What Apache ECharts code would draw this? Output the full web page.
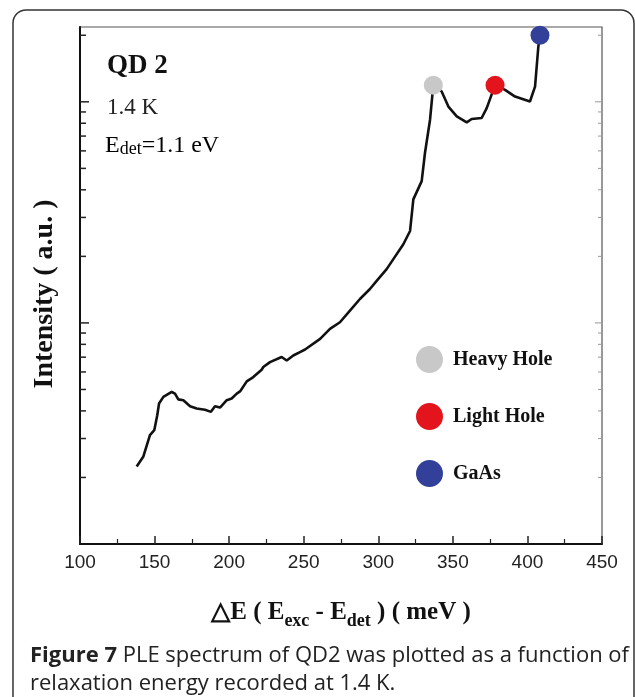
<!DOCTYPE html>
<html>
<head>
<meta charset="utf-8">
<script src="https://cdn.jsdelivr.net/npm/echarts@6/dist/echarts.min.js"></script>
<style>
html, body { margin: 0; padding: 0; background: #fff; }
#chart { width: 635px; height: 697px; }
</style>
</head>
<body>
<div id="chart"></div>
<script>
// PLE spectrum of QD2 (meV, a.u. on log scale)
const energy = [138.0, 142.4, 146.9, 149.8, 151.8, 153.0, 155.9, 161.5, 163.7, 165.9,
    169.3, 173.8, 178.2, 183.8, 187.8, 190.5, 193.9, 198.4, 201.7, 205.1,
    207.3, 211.8, 216.2, 221.8, 222.9, 227.4, 235.2, 238.6, 243.0, 247.5,
    250.9, 261.0, 267.6, 274.3, 281.0, 287.7, 294.4, 298.9, 305.6, 310.1,
    316.8, 321.3, 323.5, 329.1, 331.3, 334.7, 336.9, 342.5, 347.0, 352.6,
    359.3, 362.6, 369.3, 372.7, 378.3, 385.0, 391.7, 401.7, 405.1, 407.3, 408.4];
const intensity = [2.24, 2.48, 3.11, 3.27, 3.82, 4.32, 4.63, 4.87, 4.79, 4.51,
    4.47, 4.20, 4.10, 4.05, 3.96, 4.20, 4.14, 4.47, 4.55, 4.79,
    4.90, 5.44, 5.69, 6.14, 6.32, 6.65, 7.01, 6.76, 7.12, 7.38,
    7.58, 8.47, 9.40, 10.07, 11.36, 12.83, 14.23, 15.50, 17.51, 19.43,
    22.69, 26.05, 36.2, 43.8, 58.7, 83.0, 119, 111.3, 95.2, 85.9,
    80.7, 83.6, 84.5, 93.7, 119, 113.2, 105.6, 100.3, 117.2, 177.4, 200];

// marked peaks
const peakNames = ['Heavy Hole', 'Light Hole', 'GaAs'];
const peakEnergy = [336.9, 378.3, 408.4];
const peakIntensity = [119, 119, 200];
const peakColors = ['#c8c8c8', '#e3141c', '#33409a'];

// log axis tick values
const majorY = [10, 100];
const minorY = [2, 3, 4, 5, 6, 7, 8, 9, 20, 30, 40, 50, 60, 70, 80, 90, 200];

const xMin = 100, xMax = 450, xStep = 50;
const yMin = 1, yMax = 218;

const serif = '"Liberation Serif", "Times New Roman", serif';
const capFont = '"Open Sans", sans-serif';

var myChart = echarts.init(document.getElementById('chart'), null, { renderer: 'canvas' });

// draws a tick at both the left and the right edge for a y value
function tickItem(lenLeft, lenRight) {
    return function (params, api) {
        const l = api.coord([xMin, api.value(1)]);
        const r = api.coord([xMax, api.value(1)]);
        return {
            type: 'group',
            children: [
                { type: 'line', shape: { x1: l[0], y1: l[1], x2: l[0] + lenLeft, y2: l[1] },
                  style: { stroke: '#222', lineWidth: 1.5 } },
                { type: 'line', shape: { x1: r[0] - lenRight, y1: r[1], x2: r[0], y2: r[1] },
                  style: { stroke: '#999', lineWidth: 1 } }
            ]
        };
    };
}

const peakSeries = peakNames.map(function (name, i) {
    return {
        name: name,
        type: 'scatter',
        data: [[peakEnergy[i], peakIntensity[i]]],
        symbol: 'circle',
        symbolSize: 19,
        itemStyle: { color: peakColors[i], opacity: 1 },
        z: 5
    };
});

var option = {
    animation: false,
    backgroundColor: '#fff',
    grid: {
        left: 80, top: 27, right: 33, bottom: 153,
        show: true, borderColor: '#555', borderWidth: 1.2
    },
    legend: {
        data: peakNames,
        orient: 'vertical',
        left: 411,
        top: 341,
        icon: 'circle',
        itemWidth: 27,
        itemHeight: 29,
        itemGap: 30,
        textStyle: {
            fontFamily: serif, fontWeight: 'bold', fontSize: 20, color: '#111',
            padding: [0, 0, 0, 5]
        }
    },
    xAxis: {
        type: 'value',
        min: xMin, max: xMax, interval: xStep,
        name: '△E ( {b|E}{s|exc} - {b|E}{s|det} ) ( meV )',
        nameLocation: 'middle',
        nameGap: 52,
        nameTextStyle: {
            fontFamily: serif, fontWeight: 'bold', fontSize: 25, color: '#111',
            rich: {
                b: { fontFamily: serif, fontWeight: 'bold', fontSize: 25, color: '#111' },
                s: { fontFamily: serif, fontWeight: 'bold', fontSize: 18, color: '#111', padding: [16, 0, 0, 0] }
            }
        },
        axisLine: { lineStyle: { color: '#111', width: 2 } },
        axisTick: { inside: true, length: 8, lineStyle: { color: '#222', width: 1.5 } },
        minorTick: { show: true, splitNumber: 2, length: 5, lineStyle: { color: '#222', width: 1.2 } },
        axisLabel: { margin: 9, fontFamily: '"Liberation Sans", Arial, sans-serif', fontSize: 19, color: '#222' },
        splitLine: { show: false }
    },
    yAxis: {
        type: 'log',
        min: yMin, max: yMax,
        axisLine: { show: true, lineStyle: { color: '#111', width: 2 } },
        axisTick: { show: false },
        axisLabel: { show: false },
        splitLine: { show: false }
    },
    graphic: [
        { type: 'rect', shape: { x: 13, y: 10, width: 621, height: 760, r: 13 },
          style: { fill: 'none', stroke: '#333', lineWidth: 1.5 }, silent: true },
        { type: 'text', x: 45, y: 294, rotation: Math.PI / 2,
          style: { text: 'Intensity ( a.u. )', font: 'bold 28px ' + serif, fill: '#111',
                   align: 'center', verticalAlign: 'middle' } },
        { type: 'text', x: 107, y: 66,
          style: { text: 'QD 2', font: 'bold 27px ' + serif, fill: '#111', verticalAlign: 'middle' } },
        { type: 'text', x: 107, y: 108,
          style: { text: '1.4 K', font: '23px ' + serif, fill: '#222', verticalAlign: 'middle' } },
        { type: 'text', x: 105, y: 134,
          style: {
              text: '{m|E}{s|det}{m|=1.1 eV}',
              verticalAlign: 'top',
              rich: {
                  m: { fontFamily: serif, fontSize: 24, color: '#222', verticalAlign: 'top', lineHeight: 24 },
                  s: { fontFamily: serif, fontSize: 18, color: '#222', verticalAlign: 'bottom', lineHeight: 18, padding: [14, 0, 0, 0] }
              }
          } },
        { type: 'text', x: 30, y: 656,
          style: {
              text: '{b|Figure 7} PLE spectrum of QD2 was plotted as a function of',
              font: '22px ' + capFont, fill: '#222', verticalAlign: 'middle',
              rich: { b: { fontFamily: capFont, fontWeight: 'bold', fontSize: 22, color: '#222' } }
          } },
        { type: 'text', x: 30, y: 684,
          style: { text: 'relaxation energy recorded at 1.4 K.', font: '22px ' + capFont, fill: '#222', verticalAlign: 'middle' } }
    ],
    series: [
        {
            name: 'PLE',
            type: 'line',
            data: energy.map(function (e, i) { return [e, intensity[i]]; }),
            showSymbol: false,
            symbol: 'none',
            smooth: false,
            lineStyle: { color: '#111', width: 2.6 },
            z: 3
        },
        {
            type: 'custom',
            silent: true,
            data: majorY.map(function (v) { return [xMin, v]; }),
            renderItem: tickItem(9, 7),
            z: 4
        },
        {
            type: 'custom',
            silent: true,
            data: minorY.map(function (v) { return [xMin, v]; }),
            renderItem: tickItem(6, 4),
            z: 4
        }
    ].concat(peakSeries)
};

option && myChart.setOption(option);
</script>
</body>
</html>
